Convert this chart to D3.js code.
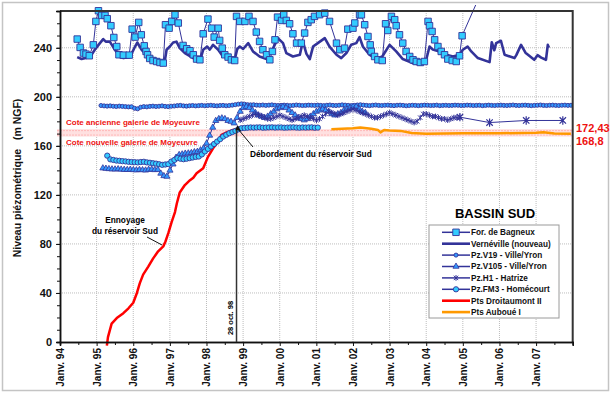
<!DOCTYPE html>
<html>
<head>
<meta charset="utf-8">
<script src="https://cdn.jsdelivr.net/npm/d3@7"></script>
<style>
  body { margin: 0; background: #fff; }
  text { font-family: "Liberation Sans", Arial, sans-serif; }
</style>
</head>
<body>
<svg width="612" height="393"></svg>
<script>
// ---- DATA (decimal years, m NGF) ----
const yearLabels = ["94", "95", "96", "97", "98", "99", "00", "01", "02", "03", "04", "05", "06", "07"];
const yTicks = [0, 40, 80, 120, 160, 200, 240];

const bagneux = [
  [1994.47, 247.1], [1994.55, 240.3], [1994.64, 235.7], [1994.71, 234.8], [1994.80, 233.5], [1994.91, 242.4],
  [1994.98, 261.5], [1995.05, 270.2], [1995.14, 266.4], [1995.23, 266.4], [1995.29, 263.7], [1995.39, 258],
  [1995.47, 248.4], [1995.55, 241], [1995.61, 234.3], [1995.73, 234], [1995.89, 234], [1995.97, 255.2],
  [1996.05, 248.7], [1996.15, 260.7], [1996.22, 250.6], [1996.30, 241.6], [1996.35, 237], [1996.39, 234.3],
  [1996.45, 231.3], [1996.54, 229.6], [1996.64, 228.8], [1996.73, 228], [1996.82, 227.5], [1996.88, 258.8],
  [1996.98, 256], [1997.05, 261.5], [1997.14, 266.9], [1997.23, 260.2], [1997.36, 241.9], [1997.46, 239.2],
  [1997.55, 237.6], [1997.64, 234.3], [1997.73, 230.8], [1997.82, 230.2], [1997.91, 251.4], [1998.04, 263.4],
  [1998.14, 256], [1998.21, 248.7], [1998.32, 256], [1998.36, 246], [1998.43, 239.7], [1998.50, 234.3],
  [1998.59, 232.4], [1998.68, 230.2], [1998.77, 229.6], [1998.82, 265.6], [1998.91, 261.5], [1999.05, 261.5],
  [1999.16, 265.6], [1999.27, 261.5], [1999.36, 252.8], [1999.45, 245.2], [1999.54, 238.4], [1999.64, 234.3],
  [1999.73, 230.2], [1999.80, 237], [1999.87, 246.5], [1999.94, 265], [2000.05, 262.3], [2000.11, 266.9],
  [2000.18, 262.3], [2000.27, 259.6], [2000.36, 251.4], [2000.46, 243.8], [2000.59, 243.8], [2000.68, 252],
  [2000.77, 260.7], [2000.86, 262.9], [2000.95, 265.6], [2001.09, 267], [2001.23, 268.3], [2001.36, 261.5],
  [2001.55, 243.8], [2001.64, 238.4], [2001.77, 239.7], [2001.86, 255.2], [2002.00, 256], [2002.05, 260.2],
  [2002.18, 266.9], [2002.23, 266.9], [2002.32, 258.8], [2002.41, 249.2], [2002.47, 242.4], [2002.50, 237],
  [2002.59, 232.9], [2002.68, 230.2], [2002.80, 229.6], [2002.89, 259.6], [2002.95, 254.1], [2003.05, 265.6],
  [2003.14, 262.9], [2003.18, 258], [2003.27, 250.6], [2003.36, 243.8], [2003.45, 237], [2003.55, 232.9],
  [2003.64, 230.2], [2003.73, 228.8], [2003.84, 228], [2003.95, 228.8], [2004.05, 261.5], [2004.09, 258],
  [2004.16, 253.3], [2004.23, 246.5], [2004.32, 241], [2004.41, 237], [2004.50, 234.3], [2004.59, 230.8],
  [2004.71, 229.6], [2004.82, 228.8], [2004.91, 233.5], [2004.98, 249.8], [2005.50, 285]
];

const verneville = [
  [1994.47, 232.4], [1994.59, 230.8], [1994.82, 232.4], [1994.95, 238.4], [1995.09, 243.8], [1995.18, 247.1],
  [1995.25, 245], [1995.36, 245], [1995.50, 238.4], [1995.64, 232.4], [1995.73, 231.6], [1995.91, 232.4],
  [1996.05, 241], [1996.11, 244.3], [1996.23, 238.4], [1996.36, 234.3], [1996.54, 231.6], [1996.73, 229.6],
  [1996.86, 228.8], [1996.91, 238.4], [1997.00, 241], [1997.09, 244.3], [1997.18, 245], [1997.27, 239.7],
  [1997.41, 235.7], [1997.64, 231.6], [1997.82, 228.8], [1997.91, 238.4], [1998.02, 241], [1998.09, 238.5],
  [1998.18, 242.4], [1998.32, 238.4], [1998.45, 232.9], [1998.64, 231.6], [1998.77, 230.2], [1998.84, 239],
  [1998.91, 241], [1999.00, 239], [1999.14, 243.8], [1999.27, 237], [1999.45, 232.9], [1999.64, 230.8],
  [1999.82, 239.7], [1999.95, 247.9], [2000.09, 243.8], [2000.18, 235.7], [2000.36, 232.9], [2000.55, 234.3],
  [2000.63, 245.2], [2000.73, 235], [2000.82, 230.8], [2000.91, 241], [2001.04, 243.8], [2001.23, 247.9],
  [2001.36, 241], [2001.55, 234.3], [2001.68, 231.6], [2001.82, 235.7], [2001.95, 242.4], [2002.09, 243.8],
  [2002.18, 248.7], [2002.27, 241], [2002.45, 234.3], [2002.64, 230.8], [2002.80, 232.9], [2003.00, 242.4],
  [2003.18, 237], [2003.36, 230.8], [2003.63, 227.5], [2003.86, 226.1], [2004.00, 230.2], [2004.09, 241],
  [2004.18, 238.5], [2004.36, 237], [2004.55, 234.3], [2004.73, 232.9], [2004.91, 234.3], [2005.00, 238.4],
  [2005.13, 241], [2005.23, 237], [2005.41, 231.6], [2005.73, 228.3], [2005.79, 244.5], [2005.86, 238],
  [2005.91, 243.8], [2006.04, 245.7], [2006.14, 234.3], [2006.41, 231.6], [2006.46, 234], [2006.59, 242.4],
  [2006.71, 236], [2006.95, 230.2], [2007.04, 234], [2007.14, 232], [2007.27, 230.2], [2007.32, 242.4],
  [2007.35, 240]
];

// monthly readings: first reading date + list of values
const v19Start = 1995.12;
const v19Values = [
  192.9, 192.6, 192.4, 192.6, 192.3, 192.1, 192.4, 192.2, 192.0, 191.8, 191.9,
  190.6, 190.2, 191.5, 192.0, 191.8, 192.2, 192.4, 192.1, 192.3, 192.6, 192.2, 192.0,
  192.3, 192.5, 192.8, 193.0, 192.6, 192.4, 192.7, 192.9, 192.6, 192.8, 193.0, 192.7,
  192.9, 193.1, 192.8, 192.6, 192.9, 193.0, 192.7, 192.9, 193.2, 193.6, 194.0, 194.2,
  194.0, 193.6, 193.4, 193.5, 193.2, 193.1, 193.3, 193.0, 193.2, 193.4, 193.1, 192.9,
  193.0, 193.2, 193.1, 192.8, 193.0, 193.3, 193.1, 192.9, 193.0, 193.2, 193.1, 193.0,
  193.2, 193.0, 192.8, 193.1, 193.3, 193.0, 192.9, 193.1, 193.4, 193.2, 193.0, 192.8,
  193.0, 193.3, 193.5, 193.2, 193.0, 192.8, 193.1, 193.3, 193.0, 192.9, 193.1, 193.2,
  193.0, 192.8, 193.1, 193.2, 193.0, 192.7, 192.9, 193.1, 193.0, 192.8, 193.0, 193.2,
  193.1, 192.9, 193.0, 193.2, 192.8, 193.0, 193.1, 192.9, 193.0, 193.2, 193.1, 192.9,
  193.0, 193.2, 193.1, 192.9, 193.0, 193.1, 192.8, 193.0, 193.2, 193.0, 192.9, 193.1,
  193.2, 193.0, 192.9, 193.1, 193.3, 193.0, 192.9, 193.1, 193.2, 193.0, 192.8, 193.0,
  193.1, 193.3, 193.0, 192.9, 193.1, 193.2, 193.0, 192.9, 193.1, 193.2, 193.0, 193.1,
  193.2
];

const v105Start = 1995.17;
const v105Values = [
  141.8, 141.5, 141.2, 141.0, 140.9, 141.1, 140.8, 140.6, 140.5, 140.7,
  140.4, 140.2, 140.5, 140.3, 140.1, 140.6, 140.8, 140.4, 140.6, 137.5, 135.5, 135.0,
  140.0, 145.0, 150.5, 152.7, 153.2, 153.8, 154.0, 154.3, 155.0, 155.3, 156.5, 158.0,
  162.0, 168.5, 175.0, 180.5, 182.0, 182.6, 182.0, 180.5, 179.8, 178.5, 183.0, 188.0,
  191.0, 192.0, 191.0, 189.0, 187.0, 185.0, 184.0, 183.0, 184.0, 186.0, 188.0, 190.0,
  191.0, 192.0, 191.0, 189.0, 187.0, 185.0, 183.0, 182.0, 181.0, 182.0, 184.0, 186.0,
  188.0, 189.0, 190.0, 189.0, 188.0, 186.0, 185.0, 186.0, 187.0, 189.0, 190.0, 191.0,
  192.0, 192.0, 190.0, 188.0, 187.0
];

const h1Start = 1998.92;
const h1Values = [
  181,
  182, 183, 184, 185, 186, 185, 184, 183, 182, 182, 183, 184,
  185, 184, 183, 182, 181, 182, 183, 184, 185, 184, 183, 182,
  181, 182, 184, 186, 188, 187, 186, 185, 186, 187, 188, 189,
  190, 189, 188, 187, 186, 185, 184, 183, 183, 184, 185, 186,
  187, 186, 185, 184, 183, 182, 181, 180, 179, 180, 183, 186,
  186, 185, 184, 184, 183, 182, 182, 181, 182, 183, 183, 183.4
];
const h1Late = [[2005.73, 179], [2006.73, 180.7], [2007.73, 180.7]];

const fm3Start = 1995.29;
const fm3Values = [
  152, 149, 148.5, 148, 147.8, 147.5, 147.3, 147, 146.8,
  146.7, 146.5, 146.8, 147, 146.5, 146.2, 145.8, 145.5, 145, 144.5, 144.8, 145.1,
  147.2, 148.5, 150, 149.5, 149.1, 149.5, 150, 150.5, 151, 151.3, 153, 155.4,
  157.5, 159.5, 161.5, 163.5, 165.5, 167.6, 169, 170.3, 171.3, 172.2, 173.5, 174.4,
  174.6, 174.8, 175, 174.9, 175, 175.1, 174.8, 174.9, 175, 175.1, 174.9, 175,
  175, 174.8, 174.9, 175, 175.1, 174.9, 174.8, 175, 174.9, 175, 175.1, 174.8,
  174.9
];

const droitaumont = [
  [1995.28, -3], [1995.31, 4], [1995.41, 15], [1995.55, 19.5], [1995.73, 23.5], [1995.87, 27.5],
  [1996.0, 32], [1996.1, 40], [1996.18, 48], [1996.27, 55], [1996.41, 61.5], [1996.54, 68],
  [1996.68, 74], [1996.82, 78], [1996.88, 82], [1996.96, 89], [1997.05, 98], [1997.14, 106],
  [1997.19, 113], [1997.27, 122], [1997.41, 128], [1997.55, 132], [1997.64, 134], [1997.73, 137.7],
  [1997.91, 141.8], [1998.04, 151], [1998.18, 158], [1998.32, 163.5], [1998.41, 169], [1998.55, 171],
  [1998.73, 173], [1998.9, 174], [1999.5, 174.5], [2000.0, 174.5], [2000.5, 174], [2001.0, 173.8]
];

const auboue = [
  [2001.41, 173.6], [2001.7, 174], [2002.0, 174.4], [2002.2, 175], [2002.5, 174], [2002.68, 173],
  [2002.75, 171], [2002.85, 173], [2003.0, 172.5], [2003.3, 172.2], [2003.6, 170.5], [2004.0, 169.8],
  [2005.0, 170.2], [2006.0, 170.3], [2007.0, 170.6], [2007.2, 171], [2007.5, 170], [2007.95, 169.8]
];

const coteAncienne = 172.43;
const coteNouvelle = 168.8;
const dateDebordement = 1998.82; // 28 oct. 98

const legendNames = [
  "For. de Bagneux", "Vernéville (nouveau)", "Pz.V19 - Ville/Yron", "Pz.V105 - Ville/Yron",
  "Pz.H1 - Hatrize", "Pz.FM3 - Homécourt", "Pts Droitaumont II", "Pts Auboué I"
];

// ---- SETUP ----
const svg = d3.select("svg");
const pLeft = 60, pRight = 572.7, pTop = 11, pBottom = 342;
const x = d3.scaleLinear().domain([1994, 2008]).range([pLeft, pRight]);
const y = d3.scaleLinear().domain([0, 270]).range([pBottom, pTop]);
const navy = "#333399";
const monthly = (start, vals) => vals.map((v, i) => [start + i / 12, v]);

// outer frame
svg.append("rect").attr("x", 2.5).attr("y", 2.5).attr("width", 606).attr("height", 388)
  .attr("fill", "none").attr("stroke", "#c4c4c4").attr("stroke-width", 1.5);

// grid
const years = d3.range(1994, 2008);
svg.append("g").selectAll("line").data(years.slice(1)).join("line")
  .attr("x1", d => x(d)).attr("x2", d => x(d)).attr("y1", pTop).attr("y2", pBottom)
  .attr("stroke", "#bdbdbd").attr("stroke-dasharray", "1,1");
svg.append("g").selectAll("line").data(yTicks.slice(1)).join("line")
  .attr("x1", pLeft).attr("x2", pRight).attr("y1", d => y(d)).attr("y2", d => y(d))
  .attr("stroke", "#bdbdbd").attr("stroke-dasharray", "1,1");

// band between the two gallery levels
svg.append("rect").attr("x", 57).attr("width", pRight - 57)
  .attr("y", y(coteAncienne) - 1.5).attr("height", y(coteNouvelle) - y(coteAncienne) + 3)
  .attr("fill", "#ffe0e0");
[coteAncienne, coteNouvelle].forEach(v => {
  svg.append("line").attr("x1", 57).attr("x2", pRight).attr("y1", y(v)).attr("y2", y(v))
    .attr("stroke", "#ffb8b8").attr("stroke-dasharray", "2,1");
});
svg.append("text").attr("x", 66).attr("y", y(coteAncienne) - 6).text("Cote ancienne galerie de Moyeuvre")
  .attr("fill", "#ee1111").attr("font-size", 8).attr("font-weight", "bold");
svg.append("text").attr("x", 66).attr("y", y(coteNouvelle) + 10).text("Cote nouvelle galerie de Moyeuvre")
  .attr("fill", "#ee1111").attr("font-size", 8).attr("font-weight", "bold");
svg.append("text").attr("x", 576).attr("y", y(coteAncienne) + 1).text("172,43")
  .attr("fill", "#ee1111").attr("font-size", 11).attr("font-weight", "bold");
svg.append("text").attr("x", 576).attr("y", y(coteNouvelle) + 10).text("168,8")
  .attr("fill", "#ee1111").attr("font-size", 11).attr("font-weight", "bold");

// clip
svg.append("clipPath").attr("id", "clip").append("rect")
  .attr("x", pLeft).attr("y", 5).attr("width", pRight - pLeft).attr("height", 341);
const plot = svg.append("g").attr("clip-path", "url(#clip)");

const line = d3.line().x(d => x(d[0])).y(d => y(d[1]));

function drawLine(data, color, width) {
  plot.append("path").datum(data).attr("d", line)
    .attr("fill", "none").attr("stroke", color).attr("stroke-width", width).attr("stroke-linejoin", "round");
}
const asterisk = s => `M${-s},${-s}L${s},${s}M${-s},${s}L${s},${-s}M0,${-s * 1.3}L0,${s * 1.3}`;
function drawMarkers(data, kind) {
  const sel = plot.append("g").selectAll("path").data(data).join("path")
    .attr("transform", d => `translate(${x(d[0])},${y(d[1])})`);
  styleMarker(sel, kind);
}
function styleMarker(sel, kind) {
  if (kind === "square") sel.attr("d", d3.symbol(d3.symbolSquare, 42)).attr("fill", "#33ccff").attr("stroke", navy).attr("stroke-width", 0.9);
  if (kind === "smallcircle") sel.attr("d", d3.symbol(d3.symbolCircle, 13)).attr("fill", "#3399ff").attr("stroke", navy).attr("stroke-width", 0.9);
  if (kind === "triangle") sel.attr("d", d3.symbol(d3.symbolTriangle, 16)).attr("fill", "#3399ff").attr("stroke", navy).attr("stroke-width", 0.8);
  if (kind === "asterisk") sel.attr("d", asterisk(2.2)).attr("fill", "none").attr("stroke", navy).attr("stroke-width", 1);
  if (kind === "bigasterisk") sel.attr("d", asterisk(3.2)).attr("fill", "none").attr("stroke", navy).attr("stroke-width", 1.2);
  if (kind === "circle") sel.attr("d", d3.symbol(d3.symbolCircle, 22)).attr("fill", "#33ccff").attr("stroke", navy).attr("stroke-width", 0.9);
}

// series
drawLine(droitaumont, "#ff0000", 2.5);
drawLine(auboue, "#ff9900", 2.5);
drawLine(verneville, navy, 2.6);
drawLine(bagneux, navy, 1);
drawMarkers(bagneux, "square");

const v19 = monthly(v19Start, v19Values);
drawLine(v19, navy, 1);
drawMarkers(v19, "smallcircle");

const v105 = monthly(v105Start, v105Values);
drawLine(v105, navy, 1);
drawMarkers(v105, "triangle");

const h1 = monthly(h1Start, h1Values);
drawLine(h1.concat(h1Late), navy, 1);
drawMarkers(h1, "asterisk");
drawMarkers(h1.slice(-1).concat(h1Late), "bigasterisk");

const fm3 = monthly(fm3Start, fm3Values);
drawLine(fm3, navy, 1);
drawMarkers(fm3, "circle");

// plot frame (top / right)
svg.append("path").attr("d", `M${pLeft},${pTop}H${pRight}V${pBottom}`)
  .attr("fill", "none").attr("stroke", "#333").attr("stroke-width", 2);

// axes
const yAxis = svg.append("g").attr("transform", `translate(${pLeft},0)`)
  .call(d3.axisLeft(y).tickValues(yTicks).tickSize(4).tickPadding(4));
svg.append("g").attr("transform", `translate(${pLeft},0)`)
  .call(d3.axisLeft(y).tickValues(d3.range(0, 271, 10)).tickSize(3).tickFormat(""));
yAxis.selectAll("text").attr("font-size", 11).attr("font-weight", "bold").attr("fill", "#111");

const xAxis = svg.append("g").attr("transform", `translate(0,${pBottom})`)
  .call(d3.axisBottom(x).tickValues(years).tickSize(4).tickFormat((d, i) => "Janv. " + yearLabels[i]));
svg.append("g").attr("transform", `translate(0,${pBottom})`)
  .call(d3.axisBottom(x).tickValues(years.map(d => d + 0.5)).tickSize(3).tickFormat(""));
xAxis.selectAll("text")
  .attr("transform", "rotate(-90)").attr("text-anchor", "end")
  .attr("x", -6).attr("y", 0).attr("dy", "0.35em")
  .attr("font-size", 10).attr("font-weight", "bold").attr("fill", "#111");
svg.selectAll(".domain").attr("stroke", "#111").attr("stroke-width", 1.5);
svg.selectAll(".tick line").attr("stroke", "#111");

// y title
svg.append("text").attr("transform", "translate(21,178) rotate(-90)").attr("text-anchor", "middle")
  .attr("xml:space", "preserve")
  .attr("font-size", 10.5).attr("font-weight", "bold").attr("fill", "#111")
  .text("Niveau piézométrique   (m NGF)");

// 28 oct 98 marker and overflow annotation
const xd = x(dateDebordement);
svg.append("line").attr("x1", xd).attr("x2", xd).attr("y1", pBottom).attr("y2", 128)
  .attr("stroke", "#333").attr("stroke-width", 1.5);
svg.append("text").attr("transform", `translate(${xd - 4},318) rotate(-90)`).attr("text-anchor", "middle")
  .attr("font-size", 7.5).attr("font-weight", "bold").text("28 oct. 98");
svg.append("line").attr("x1", 253).attr("y1", 147).attr("x2", xd + 1.5).attr("y2", 129)
  .attr("stroke", "#111").attr("stroke-width", 1);
svg.append("path").attr("d", `M${xd + 1},125 L${xd + 4.5},131 L${xd - 1},130 Z`).attr("fill", "#111");
svg.append("text").attr("x", 250).attr("y", 157).attr("font-size", 8.3).attr("font-weight", "bold")
  .text("Débordement du réservoir Sud");

// ennoyage annotation
svg.append("text").attr("x", 125).attr("y", 223).attr("text-anchor", "middle")
  .attr("font-size", 8.3).attr("font-weight", "bold").text("Ennoyage");
svg.append("text").attr("x", 125).attr("y", 234).attr("text-anchor", "middle")
  .attr("font-size", 8.3).attr("font-weight", "bold").text("du réservoir Sud");
svg.append("line").attr("x1", 147).attr("y1", 237).attr("x2", 162).attr("y2", 245)
  .attr("stroke", "#111").attr("stroke-width", 1);

// legend
svg.append("text").attr("x", 495).attr("y", 218).attr("text-anchor", "middle")
  .attr("font-size", 13).attr("font-weight", "bold").text("BASSIN SUD");
svg.append("rect").attr("x", 429).attr("y", 225).attr("width", 130).attr("height", 93)
  .attr("fill", "#fff").attr("stroke", "#9a9a9a");
const legendStyle = [
  { color: navy, w: 1.5, mk: "square" }, { color: navy, w: 2.6 }, { color: navy, w: 1.5, mk: "smallcircle" },
  { color: navy, w: 1.5, mk: "triangle" }, { color: navy, w: 1.5, mk: "asterisk" }, { color: navy, w: 1.5, mk: "circle" },
  { color: "#ff0000", w: 2.6 }, { color: "#ff9900", w: 2.6 }
];
const lg = svg.append("g").selectAll("g").data(legendNames).join("g")
  .attr("transform", (d, i) => `translate(0,${232.3 + i * 11.4})`);
lg.append("line").attr("x1", 442).attr("x2", 470)
  .attr("stroke", (d, i) => legendStyle[i].color).attr("stroke-width", (d, i) => legendStyle[i].w);
lg.each(function(d, i) {
  if (legendStyle[i].mk) {
    const m = d3.select(this).append("path").attr("transform", "translate(456,0)");
    styleMarker(m, legendStyle[i].mk);
  }
});
lg.append("text").attr("x", 471).attr("dy", "0.35em").attr("font-size", 8.2).attr("font-weight", "bold")
  .attr("fill", "#111").text(d => d);
</script>
</body>
</html>
